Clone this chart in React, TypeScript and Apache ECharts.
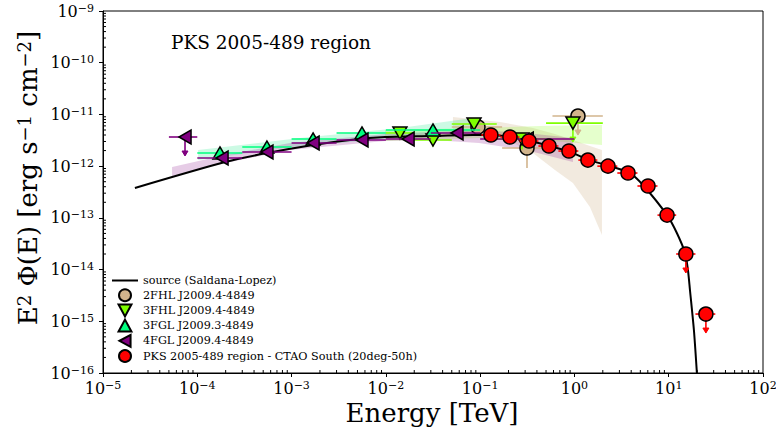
import React, { useEffect, useRef } from 'react';
import * as echarts from 'echarts';

// ---------- data ----------
const xTickExps = [-5, -4, -3, -2, -1, 0, 1, 2];
const yTickExps = [-16, -15, -14, -13, -12, -11, -10, -9];

// model curve: source (Saldana-Lopez)
const modelE = [2.18e-5, 1.97e-4, 5.48e-4, 1.69e-3, 4.17e-3, 9.8e-3, 0.0294, 0.084, 0.127, 0.207, 0.338, 0.551, 0.897, 1.46, 2.38, 3.88, 5.33, 9.6, 12.2, 14.9, 16.0, 16.8, 18.5, 19.9, 21.0];
const modelF = [3.78e-13, 1.2e-12, 1.79e-12, 2.56e-12, 3.2e-12, 3.66e-12, 3.83e-12, 4.0e-12, 4.0e-12, 3.66e-12, 3.06e-12, 2.45e-12, 1.87e-12, 1.31e-12, 1.0e-12, 7.36e-13, 4.32e-13, 1.13e-13, 5.1e-14, 2.09e-14, 9.8e-15, 4.03e-15, 6.78e-16, 1.0e-16, 2.0e-17];

// 2FHL J2009.4-4849
const fhl2E = [0.0948, 0.314, 1.09];
const fhl2F = [5.71e-12, 2.24e-12, 9.3e-12];
const fhl2Elo = [0.05, 0.171, 0.585];
const fhl2Ehi = [0.171, 0.585, 2.0];
const fhl2Flo = [4.6e-12, 9.2e-13, 0];
const fhl2Fhi = [7.0e-12, 3.5e-12, 0];
const fhl2UL = [0, 0, 1];
const fhl2BandE = [0.0515, 0.162, 0.363, 0.621, 0.964, 1.46, 1.96];
const fhl2BandLo = [4.38e-12, 3.83e-12, 1.8e-12, 8.4e-13, 4.72e-13, 1.62e-13, 4.66e-14];
const fhl2BandHi = [8.9e-12, 7.13e-12, 5.46e-12, 4.18e-12, 3.2e-12, 2.45e-12, 2.05e-12];

// 3FHL J2009.4-4849
const fhl3E = [0.0141, 0.0316, 0.0861, 0.278, 0.964];
const fhl3F = [4.38e-12, 3.2e-12, 6.53e-12, 3.35e-12, 6.8e-12];
const fhl3Elo = [0.01, 0.02, 0.05, 0.15, 0.5];
const fhl3Ehi = [0.02, 0.05, 0.15, 0.5, 2.0];
const fhl3Flo = [3.5e-12, 2.4e-12, 5.3e-12, 2.1e-12, 0];
const fhl3Fhi = [5.4e-12, 4.2e-12, 8.0e-12, 4.4e-12, 0];
const fhl3UL = [0, 0, 0, 0, 1];
const fhl3BandE = [9.8e-3, 0.0995, 0.431, 1.96];
const fhl3BandLo = [3.06e-12, 3.5e-12, 3.2e-12, 2.56e-12];
const fhl3BandHi = [5.0e-12, 5.46e-12, 5.97e-12, 6.24e-12];

// 3FGL J2009.3-4849
const fgl3E = [1.74e-4, 5.48e-4, 1.69e-3, 5.58e-3, 0.0316];
const fgl3F = [1.8e-12, 2.34e-12, 3.35e-12, 4.38e-12, 5.0e-12];
const fgl3Elo = [1e-4, 3e-4, 1e-3, 3e-3, 0.01];
const fgl3Ehi = [3e-4, 1e-3, 3e-3, 0.01, 0.1];
const fgl3Flo = [1.6e-12, 2.1e-12, 3.1e-12, 3.9e-12, 3.9e-12];
const fgl3Fhi = [2.0e-12, 2.6e-12, 3.6e-12, 4.9e-12, 6.3e-12];
const fgl3UL = [0, 0, 0, 0, 0];
const fgl3BandE = [1.02e-4, 1.23e-3, 0.0141, 0.0995];
const fgl3BandLo = [1.31e-12, 2.45e-12, 3.5e-12, 4.78e-12];
const fgl3BandHi = [2.05e-12, 3.5e-12, 5.46e-12, 8.9e-12];

// 4FGL J2009.4-4849
const fgl4E = [7.41e-5, 1.83e-4, 5.48e-4, 1.69e-3, 5.58e-3, 0.0172, 0.0568, 0.316];
const fgl4F = [3.66e-12, 1.44e-12, 1.88e-12, 2.8e-12, 3.2e-12, 3.35e-12, 4.38e-12, 3.35e-12];
const fgl4Elo = [5e-5, 1e-4, 3e-4, 1e-3, 3e-3, 0.01, 0.03, 0.1];
const fgl4Ehi = [1e-4, 3e-4, 1e-3, 3e-3, 0.01, 0.03, 0.1, 1.0];
const fgl4Flo = [0, 1.3e-12, 1.75e-12, 2.65e-12, 3.0e-12, 3.05e-12, 3.8e-12, 2.5e-12];
const fgl4Fhi = [0, 1.6e-12, 2.0e-12, 2.95e-12, 3.4e-12, 3.7e-12, 5.0e-12, 4.4e-12];
const fgl4UL = [1, 0, 0, 0, 0, 0, 0, 0];
const fgl4BandE = [5.4e-5, 1.97e-4, 9.6e-4, 9.8e-3, 0.0308, 0.097, 0.306, 0.964];
const fgl4BandLo = [6.44e-13, 1.15e-12, 2.05e-12, 3.06e-12, 3.2e-12, 2.8e-12, 2.05e-12, 1.2e-12];
const fgl4BandHi = [9.6e-13, 1.64e-12, 2.8e-12, 4.18e-12, 4.57e-12, 5.0e-12, 4.38e-12, 3.5e-12];

// PKS 2005-489 region - CTAO South (20deg-50h)
const ctaE = [0.13, 0.207, 0.33, 0.537, 0.875, 1.39, 2.27, 3.7, 6.03, 9.6, 15.2, 24.8];
const ctaF = [4.0e-12, 3.66e-12, 3.06e-12, 2.45e-12, 1.96e-12, 1.31e-12, 1.0e-12, 7.36e-13, 4.13e-13, 1.13e-13, 2.0e-14, 1.38e-15];
const ctaElo = [0.103, 0.164, 0.261, 0.415, 0.676, 1.1, 1.75, 2.85, 4.66, 7.6, 12.0, 19.2];
const ctaEhi = [0.164, 0.261, 0.415, 0.676, 1.1, 1.75, 2.85, 4.66, 7.6, 12.0, 19.2, 31.2];
const ctaUL = [0, 0, 0, 0, 0, 0, 0, 0, 0, 0, 1, 1];

const names = {
  model: 'source (Saldana-Lopez)',
  fhl2: '2FHL J2009.4-4849',
  fhl3: '3FHL J2009.4-4849',
  fgl3: '3FGL J2009.3-4849',
  fgl4: '4FGL J2009.4-4849',
  cta: 'PKS 2005-489 region - CTAO South (20deg-50h)',
};

const FONT = 'DejaVu Serif';
const C_FHL2 = '#d2b48c';
const C_FHL3 = '#7fff00';
const C_FGL3 = '#00ff7f';
const C_FGL4 = '#800080';
const C_CTA = '#ff0000';

// marker shapes
const TRI_DOWN = 'path://M0,0L14,0L7,13Z';
const TRI_UP = 'path://M7,0L14,13L0,13Z';
const TRI_LEFT = 'path://M13,0L13,14L0,7Z';
const LINE_ICON = 'path://M0,0L26,0L26,2L0,2Z';

// minor tick positions (2..9 x 10^n)
const minorMult = [2, 3, 4, 5, 6, 7, 8, 9];
const xMinor: number[] = [];
xTickExps.slice(0, -1).forEach((n) => minorMult.forEach((k) => xMinor.push(k * Math.pow(10, n))));
const yMinor: number[] = [];
yTickExps.slice(0, -1).forEach((n) => minorMult.forEach((k) => yMinor.push(k * Math.pow(10, n))));

const X_MIN = Math.pow(10, xTickExps[0]);
const X_MAX = Math.pow(10, xTickExps[xTickExps.length - 1]);
const Y_MIN = Math.pow(10, yTickExps[0]);
const Y_MAX = Math.pow(10, yTickExps[yTickExps.length - 1]);

function powLabel(v: number) {
  const e = Math.round(Math.log10(v));
  const s = e < 0 ? '\u2212' + -e : String(e);
  return `{b|10}{s|${s}}`;
}
const tickRich = {
  b: { fontFamily: FONT, fontSize: 16, color: '#000' },
  s: { fontFamily: FONT, fontSize: 11, color: '#000', verticalAlign: 'top', padding: [0, 0, 6, 0] },
};

function errRows(E: number[], F: number[], lo: number[], hi: number[], flo: number[], fhi: number[], ul: number[]) {
  return E.map((e, i) => [e, F[i], lo[i], hi[i], flo[i], fhi[i], ul[i]]);
}

function errSeries(name: string, rows: number[][], color: string, z: number) {
  return {
    type: 'custom',
    name,
    z,
    silent: true,
    clip: true,
    encode: { x: 0, y: 1 },
    data: rows,
    renderItem: (params: any, api: any) => {
      const e = api.value(0), f = api.value(1);
      const elo = api.value(2), ehi = api.value(3), flo = api.value(4), fhi = api.value(5), ul = api.value(6);
      const c = api.coord([e, f]);
      const a = api.coord([elo, f]);
      const b = api.coord([ehi, f]);
      const st = { stroke: color, lineWidth: 1.6 };
      const children: any[] = [
        { type: 'line', shape: { x1: a[0], y1: a[1], x2: b[0], y2: b[1] }, style: st },
      ];
      if (flo > 0 && fhi > 0) {
        const p = api.coord([e, flo]);
        const q = api.coord([e, fhi]);
        children.push({ type: 'line', shape: { x1: p[0], y1: p[1], x2: q[0], y2: q[1] }, style: st });
      }
      if (ul) {
        children.push({ type: 'line', shape: { x1: c[0], y1: c[1], x2: c[0], y2: c[1] + 18 }, style: st });
        children.push({
          type: 'polygon',
          shape: { points: [[c[0] - 3, c[1] + 14], [c[0] + 3, c[1] + 14], [c[0], c[1] + 19]] },
          style: { fill: color, stroke: color, lineWidth: 1 },
        });
      }
      return { type: 'group', children };
    },
  };
}

function bandSeries(name: string, E: number[], lo: number[], hi: number[], fill: string, z: number) {
  return {
    type: 'custom',
    name,
    z,
    silent: true,
    clip: true,
    encode: { x: 0, y: 1 },
    data: E.map((e, i) => [e, lo[i], hi[i]]),
    renderItem: (params: any, api: any) => {
      if (params.dataIndex !== 0) return null;
      const top = E.map((e, i) => api.coord([e, hi[i]]));
      const bot = E.map((e, i) => api.coord([e, lo[i]])).reverse();
      return {
        type: 'polygon',
        shape: { points: top.concat(bot), smooth: 0 },
        style: { fill, stroke: 'none' },
      };
    },
  };
}

function markerSeries(name: string, E: number[], F: number[], symbol: string, size: any, color: string, z: number) {
  return {
    type: 'scatter',
    name,
    z,
    symbol,
    symbolSize: size,
    symbolKeepAspect: true,
    data: E.map((e, i) => [e, F[i]]),
    itemStyle: { color, borderColor: '#000', borderWidth: 1.5, opacity: 1 },
    emphasis: { disabled: true },
  };
}

const option: any = {
  animation: false,
  backgroundColor: '#fff',
  title: {
    text: 'PKS 2005-489 region',
    left: 166,
    top: 28,
    textStyle: { fontFamily: FONT, fontSize: 18.5, fontWeight: 'normal', color: '#000' },
  },
  legend: {
    orient: 'vertical',
    left: 112,
    top: 274,
    itemWidth: 26,
    itemHeight: 12,
    itemGap: 1.2,
    padding: 0,
    selectedMode: false,
    symbolKeepAspect: true,
    textStyle: { fontFamily: FONT, fontSize: 11.2, color: '#000', lineHeight: 13 },
    data: [
      { name: names.model, icon: LINE_ICON, itemStyle: { color: '#000', borderWidth: 0 } },
      { name: names.fhl2, icon: 'circle' },
      { name: names.fhl3, icon: TRI_DOWN },
      { name: names.fgl3, icon: TRI_UP },
      { name: names.fgl4, icon: TRI_LEFT },
      { name: names.cta, icon: 'circle' },
    ],
  },
  grid: {
    left: 103,
    right: 13,
    top: 11,
    bottom: 66,
    show: true,
    borderColor: '#000',
    borderWidth: 1,
    containLabel: false,
    outerBoundsMode: 'none',
  },
  xAxis: {
    type: 'log',
    logBase: 10,
    min: X_MIN,
    max: X_MAX,
    splitNumber: 7,
    axisLine: { show: true, lineStyle: { color: '#000', width: 1 } },
    axisTick: { show: true, length: 4, inside: false, lineStyle: { color: '#000', width: 1 } },
    minorTick: { show: false },
    splitLine: { show: false },
    axisLabel: { formatter: powLabel, rich: tickRich, margin: 7, color: '#000' },
  },
  yAxis: {
    type: 'log',
    logBase: 10,
    min: Y_MIN,
    max: Y_MAX,
    splitNumber: 7,
    axisLine: { show: true, lineStyle: { color: '#000', width: 1 } },
    axisTick: { show: true, length: 4, inside: false, lineStyle: { color: '#000', width: 1 } },
    minorTick: { show: false },
    splitLine: { show: false },
    axisLabel: { formatter: powLabel, rich: tickRich, margin: 9, color: '#000' },
  },
  graphic: [
    {
      type: 'text',
      x: 28,
      y: 178,
      rotation: Math.PI / 2,
      style: {
        text: '{m|E}{s|2}{m| \u03A6(E) [erg s}{s|\u22121}{m| cm}{s|\u22122}{m|]}',
        align: 'center',
        verticalAlign: 'middle',
        rich: {
          m: { fontFamily: FONT, fontSize: 26, fill: '#000' },
          s: { fontFamily: FONT, fontSize: 18, fill: '#000', verticalAlign: 'top' },
        },
      },
    },
    {
      type: 'text',
      x: 432,
      y: 413,
      style: {
        text: 'Energy [TeV]',
        align: 'center',
        verticalAlign: 'middle',
        fontFamily: FONT,
        fontSize: 26,
        fill: '#000',
      },
    },
  ],
  series: [
    // minor ticks
    {
      type: 'custom',
      name: 'xminor',
      silent: true,
      clip: false,
      z: 10,
      encode: { x: 0, y: 1 },
      data: xMinor.map((v) => [v, Y_MIN]),
      renderItem: (params: any, api: any) => {
        const p = api.coord([api.value(0), api.value(1)]);
        return { type: 'line', shape: { x1: p[0], y1: p[1], x2: p[0], y2: p[1] - 3 }, style: { stroke: '#000', lineWidth: 1 } };
      },
    },
    {
      type: 'custom',
      name: 'yminor',
      silent: true,
      clip: false,
      z: 10,
      encode: { x: 0, y: 1 },
      data: yMinor.map((v) => [X_MIN, v]),
      renderItem: (params: any, api: any) => {
        const p = api.coord([api.value(0), api.value(1)]);
        return { type: 'line', shape: { x1: p[0], y1: p[1], x2: p[0] + 3, y2: p[1] }, style: { stroke: '#000', lineWidth: 1 } };
      },
    },
    // bands
    bandSeries('fhl2band', fhl2BandE, fhl2BandLo, fhl2BandHi, 'rgba(210,180,140,0.28)', 1),
    bandSeries('fhl3band', fhl3BandE, fhl3BandLo, fhl3BandHi, 'rgba(127,255,0,0.2)', 1),
    bandSeries('fgl3band', fgl3BandE, fgl3BandLo, fgl3BandHi, 'rgba(0,230,120,0.2)', 1),
    bandSeries('fgl4band', fgl4BandE, fgl4BandLo, fgl4BandHi, 'rgba(128,0,128,0.2)', 1),
    // model curve
    {
      type: 'line',
      name: names.model,
      z: 2,
      data: modelE.map((e, i) => [e, modelF[i]]),
      showSymbol: false,
      symbol: 'none',
      smooth: 0.25,
      clip: true,
      lineStyle: { color: '#000', width: 2 },
      itemStyle: { color: '#000' },
      emphasis: { disabled: true },
    },
    // catalogue points
    errSeries('fhl2err', errRows(fhl2E, fhl2F, fhl2Elo, fhl2Ehi, fhl2Flo, fhl2Fhi, fhl2UL), C_FHL2, 3),
    markerSeries(names.fhl2, fhl2E, fhl2F, 'circle', 14, C_FHL2, 3),
    errSeries('fhl3err', errRows(fhl3E, fhl3F, fhl3Elo, fhl3Ehi, fhl3Flo, fhl3Fhi, fhl3UL), C_FHL3, 4),
    markerSeries(names.fhl3, fhl3E, fhl3F, TRI_DOWN, [14, 13], C_FHL3, 4),
    errSeries('fgl3err', errRows(fgl3E, fgl3F, fgl3Elo, fgl3Ehi, fgl3Flo, fgl3Fhi, fgl3UL), C_FGL3, 5),
    markerSeries(names.fgl3, fgl3E, fgl3F, TRI_UP, [14, 13], C_FGL3, 5),
    errSeries('fgl4err', errRows(fgl4E, fgl4F, fgl4Elo, fgl4Ehi, fgl4Flo, fgl4Fhi, fgl4UL), C_FGL4, 6),
    markerSeries(names.fgl4, fgl4E, fgl4F, TRI_LEFT, [13, 14], C_FGL4, 6),
    errSeries('ctaerr', errRows(ctaE, ctaF, ctaElo, ctaEhi, ctaE.map(() => 0), ctaE.map(() => 0), ctaUL), C_CTA, 7),
    markerSeries(names.cta, ctaE, ctaF, 'circle', 14, C_CTA, 7),
  ],
};

export default function App() {
  const ref = useRef<HTMLDivElement>(null);
  useEffect(() => {
    const chart = echarts.init(ref.current!, null, { renderer: 'svg' });
    chart.setOption(option);
    return () => chart.dispose();
  }, []);
  return <div ref={ref} style={{ position: 'absolute', left: 0, top: 0, width: 776, height: 439 }} />;
}
